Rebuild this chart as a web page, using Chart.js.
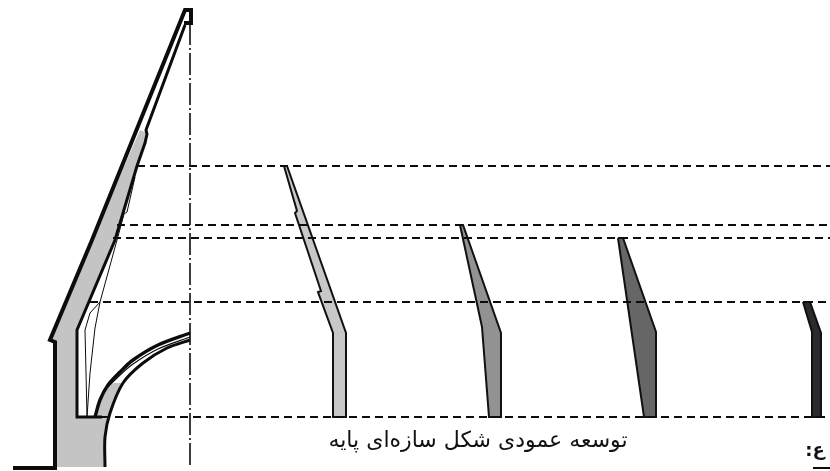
<!DOCTYPE html>
<html>
<head>
<meta charset="utf-8">
<style>
  html, body { margin: 0; padding: 0; background: #fff; }
  canvas { display: block; }
</style>
<script src="https://cdn.jsdelivr.net/npm/chart.js@4"></script>
</head>
<body>
<canvas id="myChart" width="830" height="471"></canvas>
<script>
// section of the vault, x / y
const wallFill = [[140,130],[147,133],[145,143],[137,166],[115,240],[77,330],[77,417],[95,417],[100,400],[108,385],[114,383],[123,383],[110,413],[105,437],[105,467],[55,467],[55,342],[50,340],[92,240]];
const outerLine = [[13,468],[55,468],[55,342],[50,340],[92,240],[185,10],[191,10],[191,23],[184,23]];
const innerLine = [[185,25],[146,130],[147,134],[145,143],[137,166],[115,240],[77,330],[77,417],[102,417]];
const thinLineA = [[135,177],[127,212],[124,214],[117,240],[100,302],[95,328],[90,373],[87,417]];
const thinLineB = [[100,302],[90,313],[85,330],[86,373],[87,417]];
const archOuter = [[95,417],[100,400],[108,385],[120,372],[133,360],[158,345],[190,333]];
const archMiddle = [[108,387],[120,375],[133,364],[158,349],[190,337]];
const archInner = [[105,467],[105,437],[110,413],[123,383],[143,363],[167,348],[190,340]];
const axisLine = [[190,23],[190,467]];
const cornerLine = [[813,468],[830,468]];

// the four pier sections
const pierA = [[284,166],[287,166],[346,333],[346,417],[333,417],[333,333],[318,292],[321,291],[295,213],[297,211],[284,166]];
const pierB = [[460,225],[463,225],[501,333],[501,417],[489,417],[482,327],[460,225]];
const pierC = [[618,238],[623,238],[656,332],[656,417],[644,417],[618,238]];
const pierD = [[803,302],[810,302],[821,333],[821,417],[812,417],[812,332],[803,302]];

// dashed levels: y, start x
const levelY = [166, 225, 238, 302, 417];
const levelStart = [137, 117, 113, 90, 102];

const caption = 'توسعه عمودی شکل سازه‌ای پایه';
const sideNote = 'ع:';

function toPoints(list) {
    return list.map(p => ({x: p[0], y: p[1]}));
}

function polygon(list, color) {
    return {data: toPoints(list), borderColor: '#111', borderWidth: 2, backgroundColor: color, fill: 'shape', pointRadius: 0, showLine: true, tension: 0};
}

function stroke(list, width, dash, tension) {
    return {data: toPoints(list), borderColor: '#0c0c0c', borderWidth: width, borderDash: dash || [], fill: false, pointRadius: 0, showLine: true, tension: tension || 0};
}

// chart.js paints the first dataset last, so the top layers come first
const datasets = [];
levelY.forEach((y, i) => {
    datasets.push(stroke([[levelStart[i], y], [830, y]], 1.9, [8, 5]));
});
datasets.push(
    stroke(axisLine, 1.6, [22, 3, 2, 3]),
    stroke(cornerLine, 2),
    stroke(outerLine, 4),
    stroke(innerLine, 3),
    stroke(thinLineA, 1),
    stroke(thinLineB, 1),
    stroke(archOuter, 3.4, [], 0.3),
    stroke(archMiddle, 1.2, [], 0.3),
    stroke(archInner, 3, [], 0.3),
    polygon(pierA, '#c8c8c8'),
    polygon(pierB, '#929292'),
    polygon(pierC, '#666666'),
    polygon(pierD, '#2b2b2b'),
    {data: toPoints(wallFill), borderWidth: 0, borderColor: 'transparent', backgroundColor: '#c4c4c4', fill: 'shape', pointRadius: 0, showLine: true}
);

const textPlugin = {
    id: 'drawingText',
    afterDraw(chart) {
        const ctx = chart.ctx;
        const sx = chart.scales.x, sy = chart.scales.y;
        ctx.save();
        ctx.fillStyle = '#111';
        ctx.direction = 'rtl';
        ctx.textAlign = 'center';
        ctx.textBaseline = 'middle';
        ctx.font = '22px "DejaVu Sans"';
        ctx.fillText(caption, sx.getPixelForValue(478), sy.getPixelForValue(441));
        ctx.font = 'bold 18px "DejaVu Sans"';
        ctx.fillText(sideNote, sx.getPixelForValue(815), sy.getPixelForValue(451));
        ctx.restore();
    }
};

new Chart(document.getElementById('myChart').getContext('2d'), {
    type: 'scatter',
    data: {datasets: datasets},
    options: {
        responsive: false,
        animation: false,
        layout: {padding: 0},
        plugins: {legend: {display: false}, title: {display: false}, tooltip: {enabled: false}},
        scales: {
            x: {type: 'linear', min: 0, max: 830, display: false},
            y: {type: 'linear', min: 0, max: 471, reverse: true, display: false}
        }
    },
    plugins: [textPlugin]
});
</script>
</body>
</html>
